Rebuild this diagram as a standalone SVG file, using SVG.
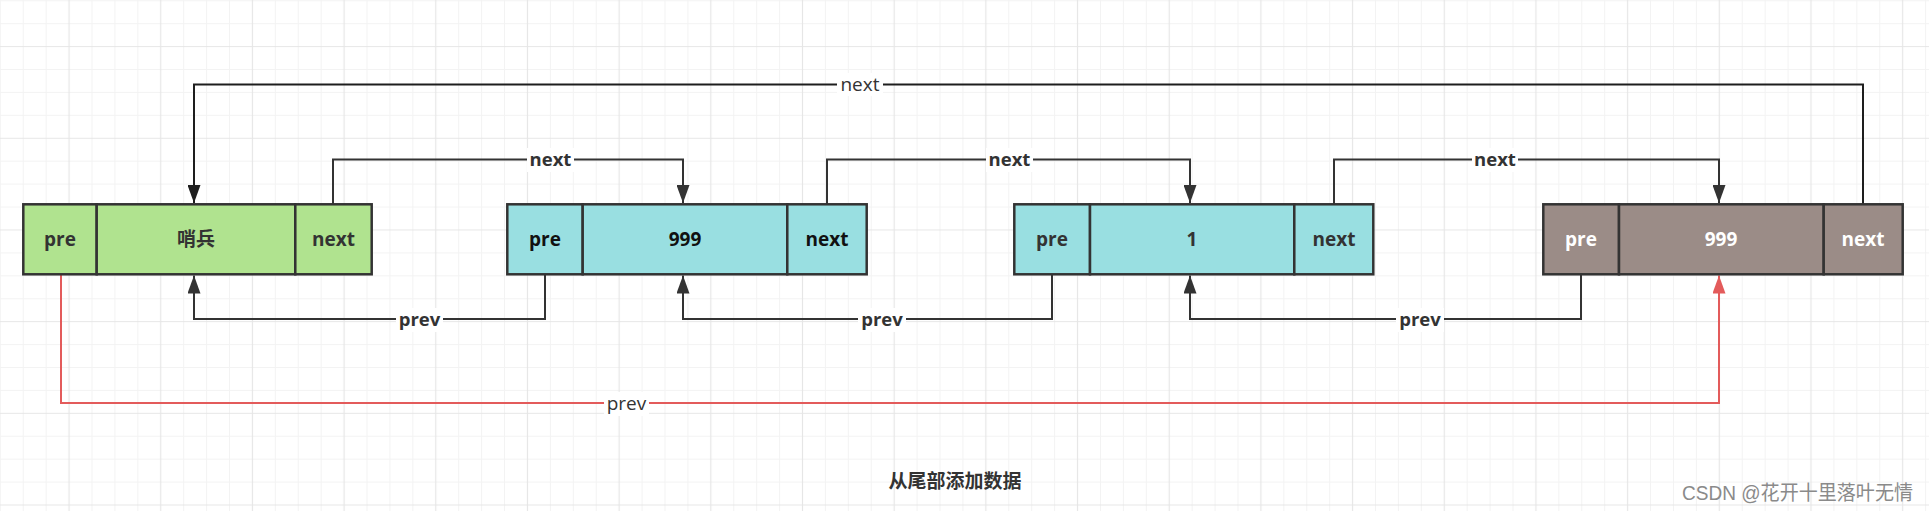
<svg xmlns="http://www.w3.org/2000/svg" width="1929" height="511" viewBox="0 0 1929 511">
<style>
.cell{stroke:#333;stroke-width:2.5}
.green{fill:#B0E38F}
.cyan{fill:#99DFE1}
.brown{fill:#9B8C87}
.t{font-family:"Open Sans","Liberation Sans",sans-serif;font-weight:bold;font-size:19px;text-anchor:middle;fill:#333}
.tw{fill:#ffffff}
.conn{fill:none;stroke:#333;stroke-width:2}
.outer{stroke:#1e1e1e}
.red{stroke:#E35B5B}
.lbg{fill:#ffffff}
.lb{font-family:"Open Sans","Liberation Sans",sans-serif;font-weight:bold;font-size:18.5px;text-anchor:middle;fill:#333}
.lr{font-family:"Open Sans","Liberation Sans",sans-serif;font-size:19px;text-anchor:middle;fill:#333}
</style>
<defs>
<pattern id="grid" width="91.68" height="91.68" patternUnits="userSpaceOnUse" x="11.76" y="-10.7">
<path d="M11.46,0V91.68M34.38,0V91.68M80.22,0V91.68M0,11.46H91.68M0,34.38H91.68M0,80.22H91.68" stroke="#f3f3f3" stroke-width="1" fill="none"/>
<path d="M57.3,0V91.68M0,57.3H91.68" stroke="#e6e6e6" stroke-width="1.2" fill="none"/>
</pattern>
<marker id="ah" markerWidth="18" markerHeight="13" refX="18" refY="6.5" orient="auto" markerUnits="userSpaceOnUse"><path d="M0,0 L18,6.5 L0,13 Z" fill="#333"/></marker>
<marker id="ahk" markerWidth="18" markerHeight="13" refX="18" refY="6.5" orient="auto" markerUnits="userSpaceOnUse"><path d="M0,0 L18,6.5 L0,13 Z" fill="#1e1e1e"/></marker>
<marker id="ahr" markerWidth="18" markerHeight="13" refX="18" refY="6.5" orient="auto" markerUnits="userSpaceOnUse"><path d="M0,0 L18,6.5 L0,13 Z" fill="#E35B5B"/></marker>
</defs>
<rect width="1929" height="511" fill="#ffffff"/>
<rect width="1929" height="511" fill="url(#grid)"/>

<g id="connectors">
<path class="conn outer" d="M1863,204V84.5H194V203" marker-end="url(#ahk)"/>
<path class="conn" d="M333,204V159.5H683V203" marker-end="url(#ah)"/>
<path class="conn" d="M827,204V159.5H1190V203" marker-end="url(#ah)"/>
<path class="conn" d="M1334,204V159.5H1719V203" marker-end="url(#ah)"/>
<path class="conn" d="M545,274V319H194V275.5" marker-end="url(#ah)"/>
<path class="conn" d="M1052,274V319H683V275.5" marker-end="url(#ah)"/>
<path class="conn" d="M1581,274V319H1190V275.5" marker-end="url(#ah)"/>
<path class="conn red" d="M61,275V403H1719V275.5" marker-end="url(#ahr)"/>
<rect class="lbg" x="837" y="73" width="46" height="23"/>
<text class="lr" x="860" y="91">next</text>
<rect class="lbg" x="527" y="148" width="47" height="24"/>
<text class="lb" x="550.5" y="166">next</text>
<rect class="lbg" x="986" y="148" width="47" height="24"/>
<text class="lb" x="1009.5" y="166">next</text>
<rect class="lbg" x="1472" y="148" width="46" height="24"/>
<text class="lb" x="1495" y="166">next</text>
<rect class="lbg" x="396" y="308" width="47" height="24"/>
<text class="lb" x="419.5" y="326">prev</text>
<rect class="lbg" x="858" y="308" width="48" height="24"/>
<text class="lb" x="882" y="326">prev</text>
<rect class="lbg" x="1396" y="308" width="48" height="24"/>
<text class="lb" x="1420" y="326">prev</text>
<rect class="lbg" x="604" y="392" width="45" height="24"/>
<text class="lr" x="626.5" y="410">prev</text>
</g>

<g id="node-sentinel">
<rect class="cell green" x="23.3" y="204.3" width="73.4" height="70"/>
<rect class="cell green" x="96.7" y="204.3" width="198.6" height="70"/>
<rect class="cell green" x="295.3" y="204.3" width="76.4" height="70"/>
<text class="t" x="60" y="246">pre</text>
<text class="t" x="196" y="246" style="font-family:'Noto Sans CJK SC','Open Sans',sans-serif">哨兵</text>
<text class="t" x="333.5" y="246">next</text>
</g>

<g id="node-999a">
<rect class="cell cyan" x="507.3" y="204.3" width="75.4" height="70"/>
<rect class="cell cyan" x="582.7" y="204.3" width="204.6" height="70"/>
<rect class="cell cyan" x="787.3" y="204.3" width="79.4" height="70"/>
<text class="t" x="545" y="246" style="fill:#111">pre</text>
<text class="t" x="685" y="246" style="fill:#111">999</text>
<text class="t" x="827" y="246" style="fill:#111">next</text>
</g>

<g id="node-1">
<rect class="cell cyan" x="1014.3" y="204.3" width="75.7" height="70"/>
<rect class="cell cyan" x="1090" y="204.3" width="204.3" height="70"/>
<rect class="cell cyan" x="1294.3" y="204.3" width="79" height="70"/>
<text class="t" x="1052" y="246">pre</text>
<text class="t" x="1192" y="246">1</text>
<text class="t" x="1334" y="246">next</text>
</g>

<g id="node-999b">
<rect class="cell brown" x="1543.3" y="204.3" width="75.7" height="70"/>
<rect class="cell brown" x="1619" y="204.3" width="204.7" height="70"/>
<rect class="cell brown" x="1823.7" y="204.3" width="79" height="70"/>
<text class="t tw" x="1581" y="246">pre</text>
<text class="t tw" x="1721" y="246">999</text>
<text class="t tw" x="1863" y="246">next</text>
</g>

<text x="955" y="488" style="font-family:'Noto Sans CJK SC',sans-serif;font-weight:bold;font-size:19px;text-anchor:middle;fill:#333">从尾部添加数据</text>
<text x="1913" y="500" textLength="231" lengthAdjust="spacingAndGlyphs" style="font-family:'Liberation Sans','Noto Sans CJK SC',sans-serif;font-size:20px;text-anchor:end;fill:#8a8a8a">CSDN @花开十里落叶无情</text>
</svg>
